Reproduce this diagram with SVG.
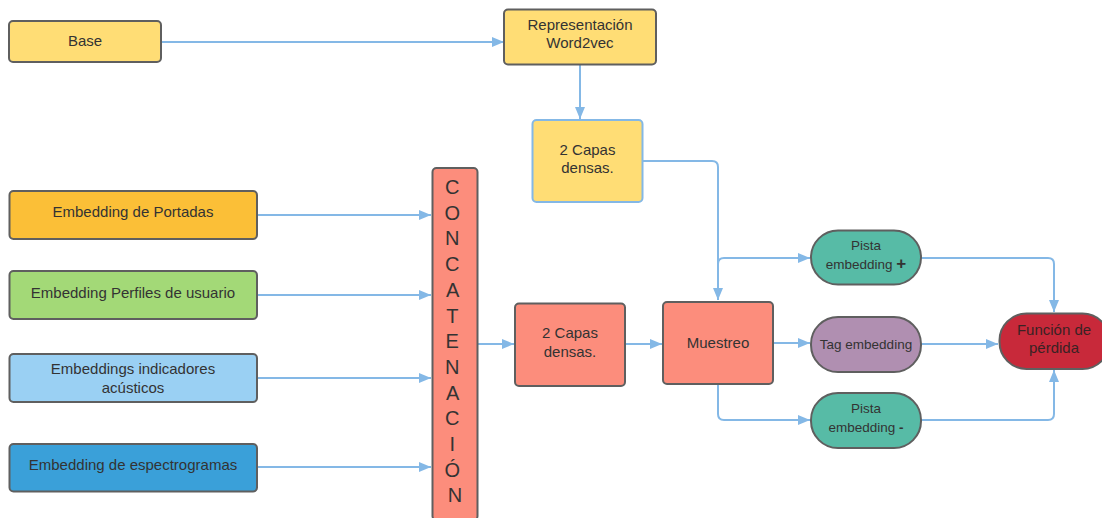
<svg xmlns="http://www.w3.org/2000/svg" width="1102" height="518" viewBox="0 0 1102 518">
  <defs>
    <marker id="arrow" markerUnits="userSpaceOnUse" markerWidth="13" markerHeight="11" refX="12" refY="5" orient="auto">
      <path d="M0,0 L12,5 L0,10 z" fill="#84b8e6"/>
    </marker>
    <style>
      .box { stroke: #5f5f5f; stroke-width: 2; }
      .lbl { font-family: "Liberation Sans", Arial, sans-serif; font-size: 15px; fill: #333333; text-anchor: middle; }
      .sm { font-size: 13.5px; }
      .conn { fill: none; stroke: #84b8e6; stroke-width: 2; marker-end: url(#arrow); }
      .line { fill: none; stroke: #84b8e6; stroke-width: 2; }
    </style>
  </defs>
  <rect width="1102" height="518" fill="#ffffff"/>

  <!-- connectors -->
  <g id="connectors">
    <path class="conn" d="M161,42 L504,42"/>
    <path class="conn" d="M580,64 L580,119"/>
    <path class="conn" d="M642,161 L712,161 Q718,161 718,167 L718,300"/>
    <path class="conn" d="M718,264 Q718,258 724,258 L810,258"/>
    <path class="conn" d="M257,215 L431,215"/>
    <path class="conn" d="M257,295 L431,295"/>
    <path class="conn" d="M257,378 L431,378"/>
    <path class="conn" d="M257,467 L431,467"/>
    <path class="conn" d="M478,344 L514,344"/>
    <path class="conn" d="M626,344 L662,344"/>
    <path class="conn" d="M773,343 L810,343"/>
    <path class="conn" d="M718,385 L718,414 Q718,420 724,420 L810,420"/>
    <path class="conn" d="M921,258 L1048,258 Q1054,258 1054,264 L1054,312"/>
    <path class="conn" d="M921,344 L998,344"/>
    <path class="conn" d="M921,420 L1048,420 Q1054,420 1054,414 L1054,370"/>
  </g>

  <g id="base">
    <rect class="box" x="9" y="21" width="152" height="41" rx="4" fill="#ffdd75"/>
    <text class="lbl" x="85" y="46">Base</text>
  </g>

  <g id="word2vec">
    <rect class="box" x="504" y="9.5" width="152" height="55" rx="4" fill="#ffdd75"/>
    <text class="lbl" x="580" y="30">Representación</text>
    <text class="lbl" x="580" y="48">Word2vec</text>
  </g>

  <g id="capas-texto">
    <rect x="532.5" y="120" width="110" height="82" rx="4" fill="#ffdd75" stroke="#84b8e6" stroke-width="2"/>
    <text class="lbl" x="587.5" y="155">2 Capas</text>
    <text class="lbl" x="587.5" y="173">densas.</text>
  </g>

  <g id="portadas">
    <rect class="box" x="9.5" y="191" width="247.5" height="48" rx="4" fill="#fbbf37"/>
    <text class="lbl" x="133" y="217">Embedding de Portadas</text>
  </g>

  <g id="perfiles">
    <rect class="box" x="9.5" y="271" width="247.5" height="48" rx="4" fill="#a3d977"/>
    <text class="lbl" x="133" y="298">Embedding Perfiles de usuario</text>
  </g>

  <g id="acusticos">
    <rect class="box" x="9.5" y="354" width="247.5" height="48" rx="4" fill="#9ad0f3"/>
    <text class="lbl" x="133" y="374">Embeddings indicadores</text>
    <text class="lbl" x="133" y="393">acústicos</text>
  </g>

  <g id="espectrogramas">
    <rect class="box" x="9.5" y="444" width="247.5" height="47.5" rx="4" fill="#3aa0d9"/>
    <text class="lbl" x="133" y="470">Embedding de espectrogramas</text>
  </g>

  <g id="concatenacion">
    <rect class="box" x="432.5" y="168" width="45" height="352" rx="4" fill="#fc8d7c"/>
    <text class="lbl" x="455" y="194" style="font-size:20px">
      <tspan x="455" dy="0">C</tspan>
      <tspan x="455" dy="25.7">O</tspan>
      <tspan x="455" dy="25.7">N</tspan>
      <tspan x="455" dy="25.7">C</tspan>
      <tspan x="455" dy="25.7">A</tspan>
      <tspan x="455" dy="25.7">T</tspan>
      <tspan x="455" dy="25.7">E</tspan>
      <tspan x="455" dy="25.7">N</tspan>
      <tspan x="455" dy="25.7">A</tspan>
      <tspan x="455" dy="25.7">C</tspan>
      <tspan x="455" dy="25.7">I</tspan>
      <tspan x="455" dy="25.7">Ó</tspan>
      <tspan x="455" dy="25.7">N</tspan>
    </text>
  </g>

  <g id="capas-audio">
    <rect class="box" x="515" y="303.5" width="110" height="82.5" rx="4" fill="#fc8d7c"/>
    <text class="lbl" x="570" y="338">2 Capas</text>
    <text class="lbl" x="570" y="357">densas.</text>
  </g>

  <g id="muestreo">
    <rect class="box" x="663" y="302" width="110" height="82" rx="4" fill="#fc8d7c"/>
    <text class="lbl" x="718" y="348">Muestreo</text>
  </g>

  <g id="pista-pos">
    <rect class="box" x="811" y="230.5" width="110" height="54" rx="27" fill="#57bba6"/>
    <text class="lbl sm" x="866" y="250">Pista</text>
    <text class="lbl sm" x="866" y="269">embedding <tspan style="font-weight:bold;font-size:17px">+</tspan></text>
  </g>

  <g id="tag">
    <rect class="box" x="811" y="317" width="110" height="55" rx="27" fill="#b08fb1"/>
    <text class="lbl sm" x="866" y="348.5">Tag embedding</text>
  </g>

  <g id="pista-neg">
    <rect class="box" x="811" y="393" width="110" height="55" rx="27" fill="#57bba6"/>
    <text class="lbl sm" x="866" y="413">Pista</text>
    <text class="lbl sm" x="866" y="432">embedding <tspan style="font-weight:bold">-</tspan></text>
  </g>

  <g id="perdida">
    <rect class="box" x="999.5" y="313.5" width="110" height="55.5" rx="27" fill="#c8293a"/>
    <text class="lbl" x="1054" y="335" style="fill:#3a2224">Función de</text>
    <text class="lbl" x="1054" y="353" style="fill:#3a2224">pérdida</text>
  </g>
</svg>
